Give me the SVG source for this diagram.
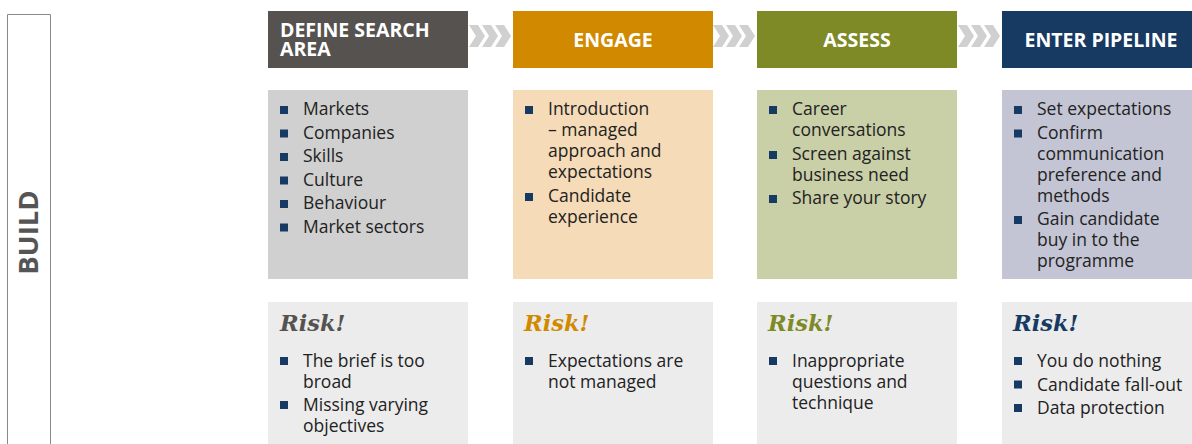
<svg xmlns="http://www.w3.org/2000/svg" width="1192" height="444" viewBox="0 0 1192 444">
<style>
.t{font-family:"Open Sans","Liberation Sans",sans-serif;font-size:17.5px;fill:#222}
.h{font-family:"Open Sans","Liberation Sans",sans-serif;font-size:19.5px;font-weight:bold;fill:#fff}
.r{font-family:"DejaVu Serif","Liberation Serif",serif;font-size:22.5px;font-weight:bold;font-style:italic}
.b{fill:#173a63}
.chev{fill:#d0d0d0}
.risk{fill:#ececec}
</style>
<defs>
<rect id="bul" width="8" height="8" class="b"/>
<g id="chevs">
<polygon class="chev" points="0,0 9,0 16,11 9,22 0,22 7,11"/>
<polygon class="chev" points="13,0 22,0 29,11 22,22 13,22 20,11"/>
<polygon class="chev" points="26,0 35,0 42,11 35,22 26,22 33,11"/>
</g>
</defs>
<g id="build">
<path d="M7.5,444 V14.5 H50.5 V444" fill="#fff" stroke="#888" stroke-width="1"/>
<text transform="translate(38,232.5) rotate(-90)" text-anchor="middle" font-family="Open Sans, Liberation Sans, sans-serif" font-weight="bold" font-size="27.5" fill="#555">BUILD</text>
</g>
<g id="connectors">
<use href="#chevs" x="469" y="25"/>
<use href="#chevs" x="713" y="25"/>
<use href="#chevs" x="958" y="25"/>
</g>
<g id="col1">
<rect x="268" y="11" width="200" height="57" fill="#55524f"/>
<text class="h" x="280" y="37">DEFINE SEARCH<tspan x="280" dy="19">AREA</tspan></text>
<rect x="268" y="90" width="200" height="189" fill="#d0d0d0"/>
<use href="#bul" x="280" y="106"/><text class="t" x="303" y="115">Markets</text>
<use href="#bul" x="280" y="129.5"/><text class="t" x="303" y="138.5">Companies</text>
<use href="#bul" x="280" y="153"/><text class="t" x="303" y="162">Skills</text>
<use href="#bul" x="280" y="176.5"/><text class="t" x="303" y="185.5">Culture</text>
<use href="#bul" x="280" y="200"/><text class="t" x="303" y="209">Behaviour</text>
<use href="#bul" x="280" y="223.5"/><text class="t" x="303" y="232.5">Market sectors</text>
<rect x="268" y="302" width="200" height="142" class="risk"/>
<text class="r" x="280" y="331" fill="#55524f">Risk!</text>
<use href="#bul" x="280" y="357"/><text class="t" x="303" y="367">The brief is too<tspan x="303" dy="21">broad</tspan></text>
<use href="#bul" x="280" y="401"/><text class="t" x="303" y="411">Missing varying<tspan x="303" dy="21">objectives</tspan></text>
</g>
<g id="col2">
<rect x="513" y="11" width="200" height="57" fill="#d18a00"/>
<text class="h" x="613" y="47" text-anchor="middle">ENGAGE</text>
<rect x="513" y="90" width="200" height="189" fill="#f5dbb7"/>
<use href="#bul" x="525" y="106"/><text class="t" x="548" y="115">Introduction<tspan x="548" dy="21">– managed</tspan><tspan x="548" dy="21">approach and</tspan><tspan x="548" dy="21">expectations</tspan></text>
<use href="#bul" x="525" y="193"/><text class="t" x="548" y="202">Candidate<tspan x="548" dy="21">experience</tspan></text>
<rect x="513" y="302" width="200" height="142" class="risk"/>
<text class="r" x="524" y="331" fill="#d18a00">Risk!</text>
<use href="#bul" x="525" y="357"/><text class="t" x="548" y="367">Expectations are<tspan x="548" dy="21">not managed</tspan></text>
</g>
<g id="col3">
<rect x="757" y="11" width="200" height="57" fill="#7d8a26"/>
<text class="h" x="857" y="47" text-anchor="middle">ASSESS</text>
<rect x="757" y="90" width="200" height="189" fill="#c9cfa6"/>
<use href="#bul" x="769" y="106"/><text class="t" x="792" y="115">Career<tspan x="792" dy="21">conversations</tspan></text>
<use href="#bul" x="769" y="151"/><text class="t" x="792" y="160">Screen against<tspan x="792" dy="21">business need</tspan></text>
<use href="#bul" x="769" y="195"/><text class="t" x="792" y="204">Share your story</text>
<rect x="757" y="302" width="200" height="142" class="risk"/>
<text class="r" x="768" y="331" fill="#7d8a26">Risk!</text>
<use href="#bul" x="769" y="357"/><text class="t" x="792" y="367">Inappropriate<tspan x="792" dy="21">questions and</tspan><tspan x="792" dy="21">technique</tspan></text>
</g>
<g id="col4">
<rect x="1002" y="11" width="190" height="57" fill="#173a63"/>
<text class="h" x="1101" y="47" text-anchor="middle">ENTER PIPELINE</text>
<rect x="1002" y="90" width="190" height="189" fill="#c3c5d4"/>
<use href="#bul" x="1014" y="106"/><text class="t" x="1037" y="115">Set expectations</text>
<use href="#bul" x="1014" y="129.5"/><text class="t" x="1037" y="138.5">Confirm<tspan x="1037" dy="21">communication</tspan><tspan x="1037" dy="21">preference and</tspan><tspan x="1037" dy="21">methods</tspan></text>
<use href="#bul" x="1014" y="216"/><text class="t" x="1037" y="225">Gain candidate<tspan x="1037" dy="21">buy in to the</tspan><tspan x="1037" dy="21">programme</tspan></text>
<rect x="1002" y="302" width="190" height="142" class="risk"/>
<text class="r" x="1013" y="331" fill="#173a63">Risk!</text>
<use href="#bul" x="1014" y="357"/><text class="t" x="1037" y="367">You do nothing</text>
<use href="#bul" x="1014" y="380.5"/><text class="t" x="1037" y="390.5">Candidate fall-out</text>
<use href="#bul" x="1014" y="404"/><text class="t" x="1037" y="414">Data protection</text>
</g>
</svg>
